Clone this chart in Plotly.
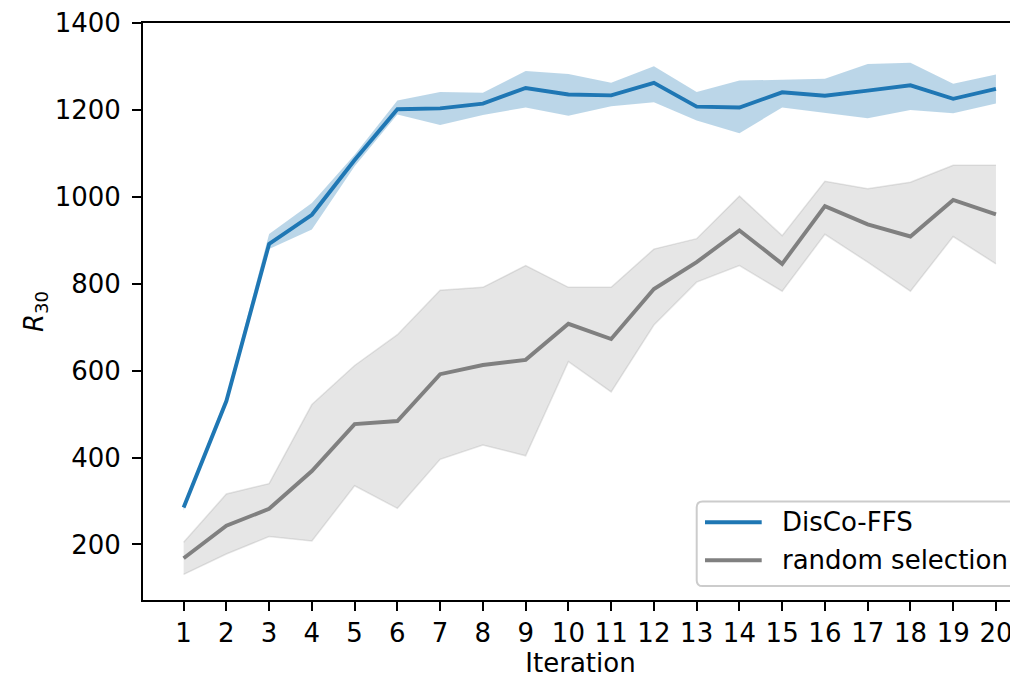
import plotly.graph_objects as go

iterations = list(range(1, 21))

disco_mean = [285, 530, 892, 959, 1085, 1202, 1204, 1215, 1251, 1236,
              1234, 1263, 1208, 1206, 1241, 1233, 1245, 1257, 1226, 1249]
disco_upper = [292, 540, 915, 986, 1097, 1222, 1242, 1240, 1290, 1283,
               1263, 1301, 1242, 1268, 1270, 1272, 1306, 1309, 1261, 1282]
disco_lower = [278, 522, 880, 925, 1071, 1190, 1166, 1189, 1206, 1187,
               1209, 1218, 1176, 1147, 1206, 1193, 1181, 1200, 1193, 1215]

rand_mean = [168, 243, 282, 369, 477, 484, 592, 613, 625, 708,
             673, 788, 850, 923, 846, 979, 937, 909, 993, 960]
rand_upper = [205, 316, 340, 522, 612, 683, 785, 792, 842, 792,
              792, 880, 904, 1002, 911, 1036, 1019, 1034, 1073, 1073]
rand_lower = [131, 178, 218, 208, 335, 283, 396, 429, 404, 621,
              551, 705, 804, 842, 783, 914, 850, 783, 909, 846]

series_names = ["DisCo-FFS", "random selection"]
x_ticks = iterations
y_ticks = [200, 400, 600, 800, 1000, 1200, 1400]

BLUE = "#1f77b4"
GREY = "#808080"
FONT = "DejaVu Sans"

fig = go.Figure()

# bands
fig.add_trace(go.Scatter(x=iterations, y=disco_lower, mode="lines",
                         line=dict(width=0, color="rgba(31,119,180,0)"),
                         showlegend=False, hoverinfo="skip"))
fig.add_trace(go.Scatter(x=iterations, y=disco_upper, mode="lines", fill="tonexty",
                         fillcolor="rgba(31,119,180,0.3)",
                         line=dict(width=0, color="rgba(31,119,180,0)"),
                         showlegend=False, hoverinfo="skip"))
fig.add_trace(go.Scatter(x=iterations, y=rand_lower, mode="lines",
                         line=dict(width=1.5, color="rgba(128,128,128,0.2)"),
                         showlegend=False, hoverinfo="skip"))
fig.add_trace(go.Scatter(x=iterations, y=rand_upper, mode="lines", fill="tonexty",
                         fillcolor="rgba(128,128,128,0.2)",
                         line=dict(width=1.5, color="rgba(128,128,128,0.2)"),
                         showlegend=False, hoverinfo="skip"))

# mean lines
fig.add_trace(go.Scatter(x=iterations, y=disco_mean, mode="lines", name=series_names[0],
                         line=dict(width=3.9, color=BLUE), showlegend=False))
fig.add_trace(go.Scatter(x=iterations, y=rand_mean, mode="lines", name=series_names[1],
                         line=dict(width=3.9, color=GREY), showlegend=False))

# page body has an 8px margin; lay out in screen pixels, then shift
OFF = 8
W, H = 1018 - OFF, 679 - OFF
L = 143 - OFF
T = 19 - OFF
B = H - (600 - OFF)
pw = W - L
ph = H - T - B


def px(xs):
    return (xs - OFF - L) / pw


def py(ys):
    return (H - B - (ys - OFF)) / ph


# manual legend (matplotlib style, cropped on the right like the reference)
x0, x1 = px(696.7), px(1070)
y0, y1 = py(586), py(500.7)
rx = 6 / pw
ry = 6 / ph
path = (f"M {x0+rx},{y1} L {x1-rx},{y1} Q {x1},{y1} {x1},{y1-ry} "
        f"L {x1},{y0+ry} Q {x1},{y0} {x1-rx},{y0} L {x0+rx},{y0} "
        f"Q {x0},{y0} {x0},{y0+ry} L {x0},{y1-ry} Q {x0},{y1} {x0+rx},{y1} Z")
fig.add_shape(type="path", path=path, xref="paper", yref="paper",
              fillcolor="rgba(255,255,255,0.8)", line=dict(color="#cccccc", width=2),
              layer="above")
legend_rows = [(521.7, BLUE, series_names[0]), (560.0, GREY, series_names[1])]
for yy, col, name in legend_rows:
    fig.add_shape(type="line", xref="paper", yref="paper",
                  x0=px(705), x1=px(761.7), y0=py(yy), y1=py(yy),
                  line=dict(color=col, width=3.9), layer="above")
    fig.add_annotation(x=px(780), y=py(yy), xref="paper", yref="paper",
                       text=name, showarrow=False, xanchor="left", yanchor="middle",
                       font=dict(family=FONT, size=26, color="black"))

fig.update_layout(
    width=W, height=H,
    margin=dict(l=L, r=0, t=T, b=B, pad=0),
    paper_bgcolor="white", plot_bgcolor="white",
    font=dict(family=FONT, size=26, color="black"),
    showlegend=False,
)
fig.update_xaxes(
    range=[0.05, 20.516], tickmode="array", tickvals=x_ticks,
    ticktext=[str(v) for v in x_ticks],
    showgrid=False, zeroline=False,
    showline=True, linecolor="black", linewidth=2, mirror=True,
    ticks="outside", ticklen=9, tickwidth=2, tickcolor="black",
    ticklabeloverflow="allow",
    tickfont=dict(family=FONT, size=26),
    title=dict(text="Iteration", font=dict(family=FONT, size=26), standoff=6),
)
fig.update_yaxes(
    range=[72, 1400.6], tickmode="array", tickvals=y_ticks,
    ticktext=[str(v) for v in y_ticks],
    showgrid=False, zeroline=False,
    showline=True, linecolor="black", linewidth=2,
    ticks="outside", ticklen=9, tickwidth=2, tickcolor="black",
    ticklabelstandoff=6, ticklabeloverflow="allow",
    tickfont=dict(family=FONT, size=26),
    title=dict(text="<i>R</i><sub>30</sub>", font=dict(family=FONT, size=26), standoff=4),
)

fig.write_html("out.html")
